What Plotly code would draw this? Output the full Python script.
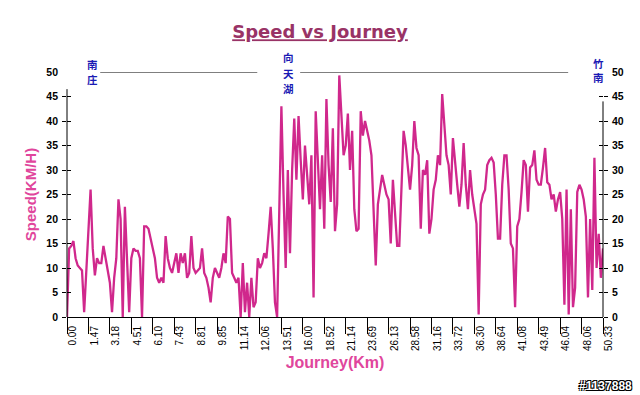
import plotly.graph_objects as go

# Speed samples (km/h), evenly spaced along the journey
speed_kmh = [
    0, 14, 14.5, 15.5, 12, 10.5, 10, 9.5, 1, 9,
    17, 26, 14, 8.5, 12, 11, 11, 14.5, 12, 9,
    7, 1, 8, 12, 24, 20, 0, 22.5, 10, 1,
    12, 14, 13.5, 13.5, 12, 0, 18.5, 18.5, 18, 16,
    14, 12, 8, 7, 8, 7, 16.5, 12, 10, 9,
    11, 13, 9, 13, 11, 13, 8, 9, 16.5, 10,
    9, 9.5, 10, 14, 9, 8, 6, 3, 8, 10,
    9, 8, 10, 13, 11, 20.5, 20, 9, 8, 7,
    8, 0, 11, 1, 7, 0, 8, 2, 3, 12,
    10, 11, 13, 12, 17, 22.5, 14, 3, 0, 20,
    43, 25, 10, 30, 13, 30, 40.5, 28, 41, 32,
    24, 35, 28, 23, 33, 4, 42, 30, 22, 33,
    18, 44.5, 31, 23.5, 38.5, 17.5, 23, 49.3, 41, 33,
    35, 41.5, 30, 38, 22, 17.5, 18, 42, 37, 40,
    38, 36, 33, 22, 10.5, 23, 26, 29, 27, 25,
    24, 15, 28, 21, 14.5, 14.5, 27, 38, 35, 30,
    26, 31, 40, 34.5, 33, 18, 30, 29, 32, 17,
    20, 26, 28, 33, 31, 45.5, 38, 33, 31, 25,
    36.5, 31, 27, 22.5, 27, 35.5, 27, 22, 30, 25,
    21.5, 19, 0.5, 23, 25, 26, 31, 32, 32.5, 31.5,
    25, 16, 16, 27, 33, 33, 26, 15, 14, 2,
    18.5, 20, 25.5, 32, 31, 21.5, 30.5, 31, 34, 28,
    27, 27, 30.5, 34.5, 27.5, 27, 24, 25, 21.5, 24,
    25.5, 20, 2.5, 26, 0.5, 22, 2, 6, 25.5, 27,
    26, 24, 20.5, 4, 20, 5.5, 32.5, 10, 17, 8,
    14,
]

journey_tick_labels = [
    "0.00", "1.47", "3.18", "4.51", "6.10", "7.43", "8.81", "9.85", "11.14",
    "12.06", "13.51", "16.00", "18.52", "21.14", "23.69", "26.13", "28.58",
    "31.16", "33.72", "36.30", "38.64", "41.08", "43.49", "46.04", "48.06", "50.33",
]

speed_tick_values = [0, 5, 10, 15, 20, 25, 30, 35, 40, 45, 50]

place_names = ["南庄", "向天湖", "竹南"]

n = len(speed_kmh)
sample_index = list(range(n))
step = (n - 1) // (len(journey_tick_labels) - 1)
tick_positions = sample_index[::step]

LINE = "#d0288c"
PINK = "#e0469c"

fig = go.Figure()
fig.add_trace(go.Scatter(
    x=sample_index, y=speed_kmh, mode="lines",
    line=dict(color=LINE, width=2.3), showlegend=False, hoverinfo="skip",
))
# helper (empty) traces so the overlay axes are drawn
for xa, ya in [("x2", "y"), ("x", "y2"), ("x", "y3"), ("x", "y4"), ("x", "y5"), ("x", "y6")]:
    fig.add_trace(go.Scatter(x=[None], y=[None], xaxis=xa, yaxis=ya,
                             showlegend=False, hoverinfo="skip"))

tick_font = dict(family="Liberation Sans", size=10, color="black")
ybold = dict(family="Liberation Sans", size=10.5, color="black", weight="bold")
ticks_only = speed_tick_values[:-1]

fig.update_layout(
    width=640, height=395,
    margin=dict(l=67, r=37, t=72, b=78, autoexpand=False),
    paper_bgcolor="white", plot_bgcolor="white",
    title=dict(
        text="Speed vs Journey", x=0.5, xanchor="center",
        y=1 - 32 / 395, yanchor="middle", yref="container", automargin=False,
        font=dict(family="DejaVu Sans", size=18, color="#993366",
                  weight="bold", lineposition="under"),
    ),
    xaxis=dict(
        range=[0, n - 1], tickvals=tick_positions, ticktext=journey_tick_labels,
        tickangle=-90, ticks="", ticklabelshift=6, ticklabelstandoff=4,
        tickfont=tick_font, showgrid=False, zeroline=False, automargin=False,
        showline=True, linecolor="black", linewidth=1,
        title=dict(text="Journey(Km)", standoff=6,
                   font=dict(family="Liberation Sans", size=16, color=PINK, weight="bold")),
        fixedrange=True,
    ),
    xaxis2=dict(
        overlaying="x", matches="x", side="bottom", tickvals=tick_positions,
        ticks="outside", ticklen=16, tickcolor="black", tickwidth=1, automargin=False,
        showticklabels=False, showgrid=False, zeroline=False, showline=False,
    ),
    yaxis=dict(
        range=[0, 50], tickvals=speed_tick_values, ticks="", ticklabelstandoff=8,
        tickfont=ybold, showgrid=False, zeroline=False, showline=False, automargin=False,
        title=dict(text="Speed(KM/H)", standoff=6,
                   font=dict(family="Liberation Sans", size=15, color=PINK, weight="bold")),
        fixedrange=True,
    ),
    yaxis2=dict(
        overlaying="y", matches="y", side="right", tickvals=speed_tick_values,
        ticks="", ticklabelstandoff=8, tickfont=ybold, automargin=False,
        showgrid=False, zeroline=False, showline=False,
    ),
    yaxis3=dict(overlaying="y", matches="y", side="left", tickvals=ticks_only,
                ticks="outside", ticklen=4, tickcolor="black", showticklabels=False,
                showgrid=False, zeroline=False, showline=False, automargin=False),
    yaxis4=dict(overlaying="y", matches="y", side="left", tickvals=ticks_only,
                ticks="inside", ticklen=4, tickcolor="black", showticklabels=False,
                showgrid=False, zeroline=False, showline=False, automargin=False),
    yaxis5=dict(overlaying="y", matches="y", side="right", tickvals=ticks_only,
                ticks="outside", ticklen=4, tickcolor="black", showticklabels=False,
                showgrid=False, zeroline=False, showline=False, automargin=False),
    yaxis6=dict(overlaying="y", matches="y", side="right", tickvals=ticks_only,
                ticks="inside", ticklen=4, tickcolor="black", showticklabels=False,
                showgrid=False, zeroline=False, showline=False, automargin=False),
)

# vertical axis lines (they stop short of the top)
fig.add_shape(type="line", xref="paper", yref="y", x0=0, x1=0, y0=0, y1=46.5,
              line=dict(color="black", width=1))
fig.add_shape(type="line", xref="paper", yref="y", x0=1, x1=1, y0=0, y1=44,
              line=dict(color="black", width=1))
# route line at the top with place markers
for x0, x1 in [(0.062, 0.355), (0.435, 0.935)]:
    fig.add_shape(type="line", xref="paper", yref="y", x0=x0, x1=x1, y0=50, y1=50,
                  line=dict(color="black", width=1))

# place names written vertically, one character per line
cjk = dict(family="Noto Sans CJK SC", size=10.5, color="#1a1ab4", weight="bold")
for name, xp, ytop in zip(place_names, [0.047, 0.413, 0.991], [64, 58, 63]):
    for k, ch in enumerate(name):
        ypx = ytop + 15 * k
        fig.add_annotation(text=ch, xref="paper", yref="paper", x=xp,
                           y=1 - (ypx - 72) / 245, xanchor="center", yanchor="middle",
                           showarrow=False, font=cjk)

fig.add_annotation(
    text="#1137888", xref="paper", yref="paper", x=(634 - 67) / 536,
    y=-(386 - 317) / 245, xanchor="right", yanchor="middle", showarrow=False,
    font=dict(family="Liberation Sans", size=12, color="white", weight="bold",
              shadow="1px 1px 0 #000, -1px -1px 0 #000, 1px -1px 0 #000, -1px 1px 0 #000"),
)

fig.write_html("out.html", config={"displayModeBar": False},
               post_script="document.body.style.margin='0px';")
